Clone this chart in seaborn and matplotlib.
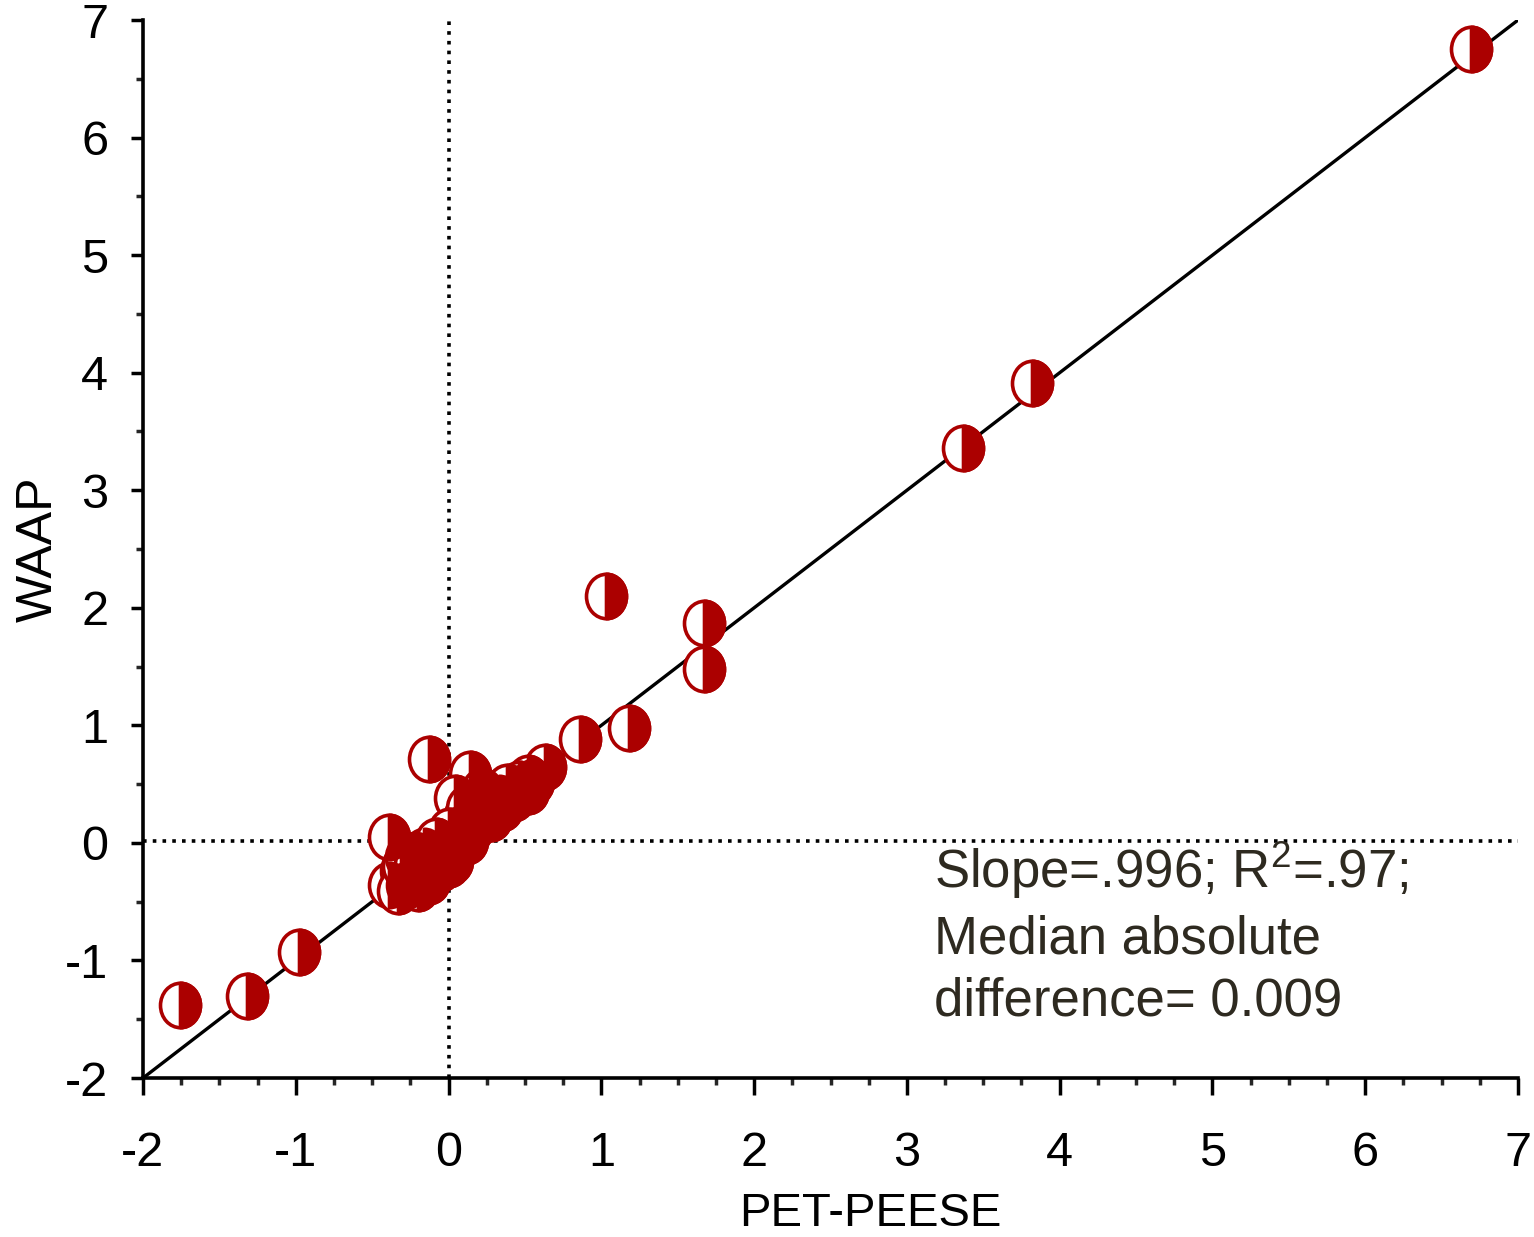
import numpy as np
import pandas as pd
import seaborn as sns
import matplotlib
matplotlib.use("Agg")
import matplotlib.pyplot as plt
from matplotlib.markers import MarkerStyle
from matplotlib.transforms import Affine2D
from matplotlib.ticker import MultipleLocator

# ---- data ----
pet_peese = [6.69, 3.82, 3.37, 1.03, 1.67, 1.67, 1.18, 0.86, 0.63, -0.13, 0.14,
             -0.39, -0.39, -0.98, -1.32, -1.76, 0.04,
             0.52, 0.46, 0.39, 0.33, 0.26, 0.22, 0.17, 0.10, 0.04, 0.00, 0.00,
             -0.07, -0.16, -0.22, -0.24, -0.31, -0.33, -0.13, -0.05,
             0.22, 0.10, 0.07, 0.28, 0.35, 0.43, 0.52, 0.02, -0.20, 0.12, 0.30,
             -0.30, -0.25, -0.18, -0.10, -0.05, 0.02, 0.08, 0.15, 0.20, 0.25,
             0.30, 0.35, 0.40, 0.45, 0.50, 0.05, 0.12, -0.15, -0.28, 0.18,
             0.38, 0.55, 0.00, -0.08, -0.22, -0.12, -0.27, -0.18]
waap = [6.75, 3.91, 3.36, 2.10, 1.87, 1.48, 0.98, 0.88, 0.65, 0.71, 0.59,
        0.05, -0.36, -0.93, -1.30, -1.38, 0.38,
        0.55, 0.50, 0.44, 0.38, 0.33, 0.25, 0.16, 0.08, 0.02, -0.09, -0.18,
        -0.07, -0.07, -0.10, -0.32, -0.24, -0.41, -0.32, -0.21,
        0.44, 0.21, 0.13, 0.21, 0.30, 0.38, 0.44, -0.15, -0.38, 0.30, 0.36,
        -0.20, -0.28, -0.22, -0.12, -0.02, 0.05, 0.12, 0.10, 0.18, 0.22,
        0.27, 0.35, 0.38, 0.42, 0.48, -0.05, 0.02, -0.30, -0.12, 0.28,
        0.48, 0.52, 0.10, 0.02, -0.18, -0.26, -0.36, -0.34]
x_ticks = [-2, -1, 0, 1, 2, 3, 4, 5, 6, 7]
y_ticks = [-2, -1, 0, 1, 2, 3, 4, 5, 6, 7]
annotation = "Slope=.996; R$^{2}$=.97;\nMedian absolute\ndifference= 0.009"
x_label = "PET-PEESE"
y_label = "WAAP"
h_ref = 0.02   # horizontal dotted reference line
v_ref = 0.0    # vertical dotted reference line

df = pd.DataFrame({"PET-PEESE": pet_peese, "WAAP": waap})

sns.set_style("white")
plt.rcParams["font.family"] = ["Liberation Sans", "DejaVu Sans"]
plt.rcParams["axes.unicode_minus"] = False
plt.rcParams["mathtext.fontset"] = "custom"
plt.rcParams["mathtext.rm"] = "Liberation Sans"
plt.rcParams["mathtext.it"] = "Liberation Sans"
plt.rcParams["mathtext.default"] = "regular"

RED = "#ab0000"
fig = plt.figure(figsize=(15.34, 12.37), dpi=100)
fig.patch.set_facecolor("white")
ax = fig.add_axes([0.0932, 0.1285, 0.8964, 0.8553])
ax.set_facecolor("white")

# reference lines
ax.plot([-2, 7], [-2, 7], color="black", lw=2.4, zorder=1, solid_capstyle="butt")
ax.axhline(h_ref, color="black", lw=2.6, ls=(0, (1, 1.7)), zorder=1)
ax.axvline(v_ref, color="black", lw=2.6, ls=(0, (1, 1.7)), zorder=1)

ms = 1024
squash = Affine2D().scale(0.9, 1.0)
# white ellipses with red ring
sns.scatterplot(data=df, x="PET-PEESE", y="WAAP", ax=ax, s=ms,
                marker=MarkerStyle("o", transform=squash),
                facecolor="white", edgecolor=RED, linewidth=2.6, zorder=3,
                legend=False)
# right half filled red
sns.scatterplot(data=df, x="PET-PEESE", y="WAAP", ax=ax, s=ms,
                marker=MarkerStyle("o", fillstyle="right", transform=squash),
                color=RED, edgecolor=RED, linewidth=2.6, zorder=4, legend=False)

ax.set_xlim(-2, 7)
ax.set_ylim(-2, 7)
ax.set_xticks(x_ticks)
ax.set_yticks(y_ticks)
ax.xaxis.set_minor_locator(MultipleLocator(0.25))
ax.yaxis.set_minor_locator(MultipleLocator(0.5))

for side in ["top", "right"]:
    ax.spines[side].set_visible(False)
for side in ["left", "bottom"]:
    ax.spines[side].set_color("black")
    ax.spines[side].set_linewidth(2.6)

ax.tick_params(axis="x", which="major", direction="out", length=12, width=2.5,
               labelsize=35, pad=26, colors="black", bottom=True)
ax.tick_params(axis="x", which="minor", direction="out", length=5, width=2.5,
               bottom=True)
ax.tick_params(axis="y", which="major", direction="out", length=9, width=2.5,
               labelsize=35, pad=16, colors="black", left=True)
ax.tick_params(axis="y", which="minor", direction="out", length=5, width=2.5,
               left=True)

ax.set_xlabel(x_label, fontsize=34, color="black")
ax.set_ylabel(y_label, fontsize=36, color="black")
ax.xaxis.set_label_coords(0.529, -0.108)
ax.yaxis.set_label_coords(-0.059, 0.5)

ax.text(3.18, 0.025, annotation, fontsize=38, color="#2e2a20", ha="left",
        va="top", linespacing=1.33, zorder=5)

fig.savefig("out.png", dpi=100)
